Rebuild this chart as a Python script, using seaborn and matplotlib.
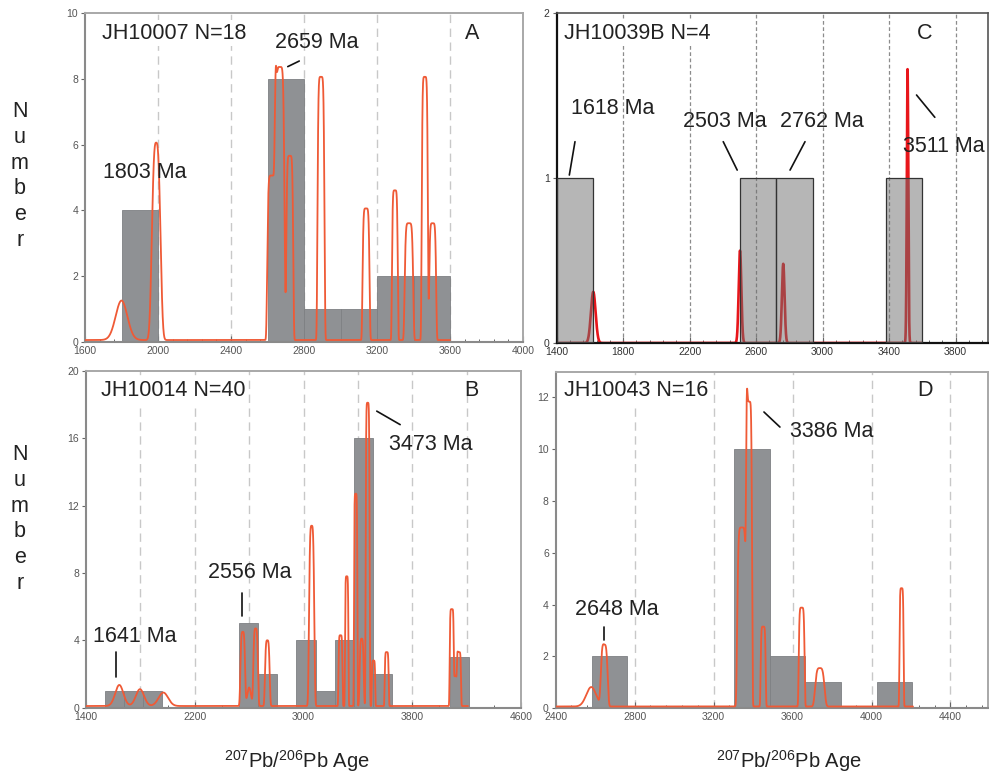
import numpy as np
import pandas as pd
import matplotlib
matplotlib.use("Agg")
import matplotlib.pyplot as plt
from matplotlib.ticker import MultipleLocator
import seaborn as sns

# ---------------- data ----------------
# Histogram bins: start, width, counts
a_bin_start, a_bin_width = 1600, 200
a_counts = [0, 4, 0, 0, 0, 8, 1, 1, 2, 2]
b_bin_start, b_bin_width = 1538, 141
b_counts = [1, 1, 1, 0, 0, 0, 0, 5, 2, 0, 4, 1, 4, 16, 2, 0, 0, 0, 3]
c_bin_start, c_bin_width = 1400, 220
c_counts = [1, 0, 0, 0, 0, 1, 1, 0, 0, 1]
d_bin_start, d_bin_width = 2582, 180.5
d_counts = [2, 0, 0, 0, 10, 2, 1, 0, 1]

# Probability-density curve components: centre (Ma), height, width, shape
a_pk_age = [1800, 1990, 2622, 2668, 2722, 2893, 3140, 3298, 3375, 3462, 3505]
a_pk_h = [1.2, 6.0, 5.0, 8.3, 5.6, 8.0, 4.0, 4.55, 3.55, 8.0, 3.55]
a_pk_w = [32, 22, 22, 24, 18, 18, 18, 15, 22, 16, 18]
a_pk_p = [2, 3, 6, 6, 6, 6, 6, 6, 6, 6, 6]
a_range = (1600, 3600)

b_pk_age = [1645, 1797, 1969, 2553, 2600, 2648, 2734, 3060, 3272, 3318, 3384, 3428,
            3472, 3515, 3612, 4090, 4117, 4144]
b_pk_h = [1.25, 1.0, 0.8, 4.4, 1.1, 4.6, 3.9, 10.7, 4.2, 7.7, 12.6, 4.0,
          18.0, 2.7, 3.2, 5.75, 1.8, 3.2]
b_pk_w = [30, 30, 35, 16, 14, 16, 16, 18, 14, 12, 12, 14, 14, 12, 14, 14, 12, 14]
b_pk_p = [2, 2, 2, 4, 2, 4, 4, 4, 6, 6, 6, 4, 6, 6, 6, 6, 4, 6]
b_range = (1400, 4210)

c_pk_age = [1620, 2503, 2763, 3511]
c_pk_h = [0.31, 0.56, 0.48, 1.66]
c_pk_w = [14, 8, 8, 4.5]
c_pk_p = [2, 2, 2, 2]
c_range = (1400, 3600)

d_pk_age = [2580, 2646, 3343, 3380, 3451, 3646, 3738, 4152]
d_pk_h = [0.75, 2.37, 6.9, 11.75, 3.08, 3.81, 1.48, 4.56]
d_pk_w = [25, 16, 22, 14, 12, 14, 22, 10]
d_pk_p = [2, 4, 6, 6, 6, 6, 4, 6]
d_range = (2400, 4210)

baseline = {"A": 0.06, "B": 0.1, "C": 0.0, "D": 0.07}

# ---------------- style ----------------
sns.set_theme(style="white")
plt.rcParams["font.family"] = ["Liberation Sans", "DejaVu Sans"]
plt.rcParams["mathtext.fontset"] = "custom"
plt.rcParams["mathtext.rm"] = "Liberation Sans"
plt.rcParams["mathtext.it"] = "Liberation Sans:italic"

W, H = 989, 776
fig = plt.figure(figsize=(W / 100, H / 100), dpi=100)


def ax_at(l, t, r, b):
    return fig.add_axes([l / W, 1 - b / H, (r - l) / W, (b - t) / H])


def pdp(rng, ages, hs, ws, ps, base):
    x = np.linspace(rng[0], rng[1], 6000)
    y = np.full_like(x, base)
    for c, h, w, p in zip(ages, hs, ws, ps):
        y += h * np.exp(-0.5 * np.abs((x - c) / w) ** p)
    return pd.DataFrame({"age": x, "density": y})


def hist(ax, start, width, counts, **kw):
    edges = [float(start + width * i) for i in range(len(counts) + 1)]
    centers = [e + width / 2 for e in edges[:-1]]
    df = pd.DataFrame({"age": centers, "n": [float(c) for c in counts]})
    sns.histplot(data=df, x="age", weights="n", bins=edges, ax=ax, stat="count", **kw)


def style_axes(ax, xlim, ylim, xmajor, xoff, xminor, xmoff, ymajor, grid, gridstyle,
               spine_dark=False):
    ax.set_xlim(*xlim)
    ax.set_ylim(*ylim)
    ax.xaxis.set_major_locator(MultipleLocator(xmajor, offset=xoff))
    ax.xaxis.set_minor_locator(MultipleLocator(xminor, offset=xmoff))
    ax.yaxis.set_major_locator(MultipleLocator(ymajor))
    ax.set_xlabel("")
    ax.set_ylabel("")
    for g in grid:
        ax.axvline(g, zorder=0.5, **gridstyle)
    ax.tick_params(axis="x", which="major", direction="in", length=4, width=0.8,
                   labelsize=7.5, labelcolor="#555555", color="#666666", pad=3, bottom=True)
    ax.tick_params(axis="x", which="minor", direction="in", length=2.5, width=0.7,
                   color="#666666", bottom=True)
    ax.tick_params(axis="y", which="major", direction="out", length=3, width=0.8,
                   labelsize=7.5, labelcolor="#555555", color="#666666", pad=2, left=True)
    if spine_dark:
        for s in ["left", "bottom"]:
            ax.spines[s].set_color("#111111")
            ax.spines[s].set_linewidth(1.6)
        for s in ["top", "right"]:
            ax.spines[s].set_color("#555555")
            ax.spines[s].set_linewidth(1.2)
    else:
        for s in ["left", "bottom"]:
            ax.spines[s].set_color("#8a8a8a")
            ax.spines[s].set_linewidth(1.5)
        for s in ["top", "right"]:
            ax.spines[s].set_color("#a8a8a8")
            ax.spines[s].set_linewidth(1.4)
    for s in ax.spines.values():
        s.set_visible(True)


grid_light = dict(color="#c8c8c8", lw=1.0, linestyle=(0, (6, 4)))
grid_dark = dict(color="#8c8c8c", lw=0.9, linestyle=(0, (3, 2)))
bar_kw = dict(color="#8f9194", edgecolor="#7e8083", linewidth=0.6, alpha=1.0, zorder=1)
curve_color = "#ef5a36"
txt_kw = dict(fontsize=15.5, color="#222222", va="center", zorder=6)
box = dict(facecolor="white", edgecolor="none", pad=1.5)


def label(ax, x, y, s, ha="left", boxed=False):
    t = ax.text(x, y, s, ha=ha, **txt_kw)
    if boxed:
        t.set_bbox(box)
    t.set_clip_on(False)


def line(ax, x0, y0, x1, y1):
    ax.plot([x0, x1], [y0, y1], color="#111111", lw=1.2, zorder=6, clip_on=False)


# ---------------- Panel A ----------------
axA = ax_at(85, 13, 523, 342)
hist(axA, a_bin_start, a_bin_width, a_counts, **bar_kw)
dA = pdp(a_range, a_pk_age, a_pk_h, a_pk_w, a_pk_p, baseline["A"])
sns.lineplot(data=dA, x="age", y="density", ax=axA, color=curve_color, lw=1.3,
             estimator=None, sort=False, zorder=3)
style_axes(axA, (1600, 4000), (0, 10), 400, 0, 80, 0, 2,
           [2000, 2400, 2800, 3200, 3600], grid_light)
label(axA, 1691, 9.39, "JH10007 N=18", boxed=True)
label(axA, 3722, 9.39, "A", ha="center")
label(axA, 2641, 9.09, "2659 Ma")
line(axA, 2711, 8.37, 2774, 8.54)
label(axA, 1699, 5.15, "1803 Ma")

# ---------------- Panel C ----------------
axC = ax_at(556.7, 13, 988, 343)
dC = pdp(c_range, c_pk_age, c_pk_h, c_pk_w, c_pk_p, baseline["C"])
sns.lineplot(data=dC, x="age", y="density", ax=axC, color="#e8161b", lw=1.9,
             estimator=None, sort=False, zorder=2)
hist(axC, c_bin_start, c_bin_width, c_counts, color="#6e6e6e", alpha=0.5,
     edgecolor="#333333", linewidth=0.9, zorder=3)
style_axes(axC, (1400, 3995), (0, 2), 400, 200, 80, 40, 1,
           [1800, 2200, 2600, 3000, 3400, 3800], grid_dark, spine_dark=True)
axC.tick_params(axis="both", labelcolor="#333333")
label(axC, 1444, 1.877, "JH10039B N=4", boxed=True)
label(axC, 3615, 1.877, "C", ha="center")
label(axC, 1484, 1.422, "1618 Ma")
line(axC, 1510, 1.22, 1476, 1.018)
label(axC, 2162, 1.341, "2503 Ma")
line(axC, 2402, 1.22, 2486, 1.048)
label(axC, 2743, 1.341, "2762 Ma")
line(axC, 2894, 1.22, 2804, 1.048)
label(axC, 3481, 1.19, "3511 Ma")
line(axC, 3565, 1.503, 3675, 1.368)

# ---------------- Panel B ----------------
axB = ax_at(86, 370.7, 521, 707.7)
hist(axB, b_bin_start, b_bin_width, b_counts, **bar_kw)
dB = pdp(b_range, b_pk_age, b_pk_h, b_pk_w, b_pk_p, baseline["B"])
sns.lineplot(data=dB, x="age", y="density", ax=axB, color=curve_color, lw=1.3,
             estimator=None, sort=False, zorder=3)
style_axes(axB, (1400, 4600), (0, 20), 800, 600, 200, 0, 4,
           [1800, 2200, 2600, 3000, 3400, 3800, 4200], grid_light)
label(axB, 1508, 18.83, "JH10014 N=40", boxed=True)
label(axB, 4238, 18.83, "B", ha="center")
label(axB, 3632, 15.61, "3473 Ma")
line(axB, 3539, 17.6, 3711, 16.8)
label(axB, 2295, 8.02, "2556 Ma")
line(axB, 2546, 6.78, 2546, 5.43)
label(axB, 1454, 4.21, "1641 Ma")
line(axB, 1621, 3.32, 1621, 1.84)

# ---------------- Panel D ----------------
axD = ax_at(555.7, 372.3, 988, 708.3)
hist(axD, d_bin_start, d_bin_width, d_counts, **bar_kw)
dD = pdp(d_range, d_pk_age, d_pk_h, d_pk_w, d_pk_p, baseline["D"])
sns.lineplot(data=dD, x="age", y="density", ax=axD, color=curve_color, lw=1.3,
             estimator=None, sort=False, zorder=3)
style_axes(axD, (2400, 4590), (0, 12.95), 400, 0, 80, 0, 2,
           [2800, 3200, 3600, 4000, 4400], grid_light)
label(axD, 2442, 12.26, "JH10043 N=16", boxed=True)
label(axD, 4270, 12.26, "D", ha="center")
label(axD, 3589, 10.65, "3386 Ma")
line(axD, 3455, 11.42, 3536, 10.84)
label(axD, 2498, 3.79, "2648 Ma")
line(axD, 2645, 3.14, 2645, 2.63)

# ---------------- figure labels ----------------
for yc in (176, 519):
    fig.text(20 / W, 1 - yc / H, "N\nu\nm\nb\ne\nr", ha="center", va="center",
             fontsize=15.5, linespacing=1.3, color="#222222")
xl = r"$^{207}$Pb/$^{206}$Pb Age"
for xc in (297, 789):
    fig.text(xc / W, 1 - 761 / H, xl, ha="center", va="center", fontsize=14.5, color="#222222")

fig.savefig("out.png", dpi=100)
